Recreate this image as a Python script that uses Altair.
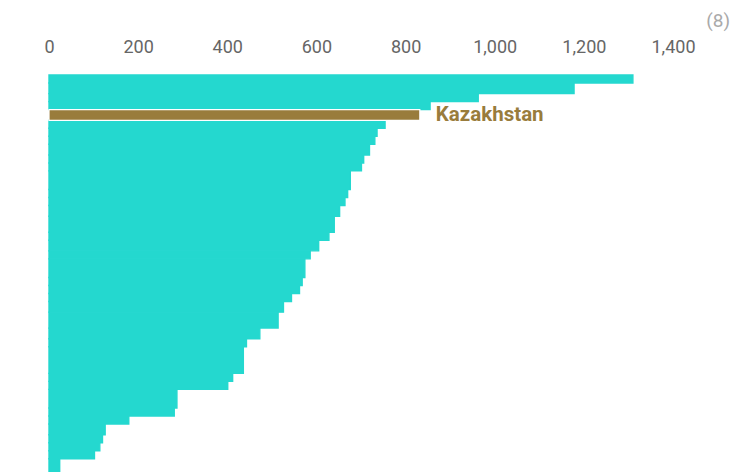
import altair as alt
import pandas as pd

# Entities in ranked order (only the highlighted one is named in the reference)
countries = ["A01", "A02", "A03", "A04", "Kazakhstan", "A06", "A07", "A08", "A09", "A10",
             "A11", "A12", "A13", "A14", "A15", "A16", "A17", "A18", "A19", "A20",
             "A21", "A22", "A23", "A24", "A25", "A26", "A27", "A28", "A29", "A30",
             "A31", "A32", "A33", "A34", "A35", "A36", "A37", "A38"]
values = [1310, 1178, 963, 855, 832, 754, 736, 731, 719, 706,
          701, 676, 670, 664, 652, 640, 628, 605, 586, 574,
          568, 562, 544, 526, 514, 473, 443, 436, 412, 401,
          287, 281, 179, 126, 120, 114, 102, 24]
# bar thickness (relative weight of each entity)
weights = [3, 4, 3, 3, 4, 3, 3, 3, 4, 3,
           3, 7, 3, 3, 4, 6, 3, 4, 3, 7,
           3, 3, 3, 4, 6, 4, 3, 10, 3, 3,
           7, 3, 3, 4, 3, 3, 3, 5]
tick_values = [0, 200, 400, 600, 800, 1000, 1200, 1400]
highlight = "Kazakhstan"

CYAN = "#24D8CF"
GOLD = "#997C3C"

df = pd.DataFrame({
    "country": countries,
    "value": values,
    "weight": weights,
    "rank": list(range(len(countries))),
})

total = sum(weights)

base = alt.Chart(df).transform_window(
    end="sum(weight)", sort=[alt.SortField("rank")], frame=[None, 0]
).transform_calculate(
    start="datum.end - datum.weight",
    mid="datum.end - datum.weight / 2",
    zero="0",
)

xscale = alt.Scale(domain=[0, 1400], nice=False)
yscale = alt.Scale(domain=[0, total], reverse=True, nice=False, zero=False)

bars = base.transform_filter(alt.datum.country != highlight).mark_rect(
    color=CYAN, stroke=CYAN, strokeWidth=1.4,
).encode(
    x=alt.X("value:Q", scale=xscale, axis=alt.Axis(
        orient="top", values=tick_values, format=",d", grid=False, domain=False,
        ticks=False, tickSize=0, labelPadding=19, labelFontSize=18, labelFlush=False,
        labelColor="#666666", labelFont="Roboto", title=None)),
    x2="zero:Q",
    y=alt.Y("start:Q", scale=yscale, axis=None),
    y2="end:Q",
)

hbar = base.transform_filter(alt.datum.country == highlight).mark_rect(
    color=GOLD, stroke="white", strokeWidth=1.2,
).encode(
    x=alt.X("value:Q", scale=xscale),
    x2="zero:Q",
    y=alt.Y("start:Q", scale=yscale),
    y2="end:Q",
)

label = base.transform_filter(alt.datum.country == highlight).mark_text(
    align="left", baseline="middle", dx=16, dy=0, fontSize=20.5, fontWeight="bold",
    font="Roboto", color=GOLD,
).encode(
    x=alt.X("value:Q", scale=xscale),
    y=alt.Y("mid:Q", scale=yscale),
    text="country:N",
)

chart = alt.layer(bars, hbar, label).properties(
    width=624,
    height=397,
    padding={"left": 41, "top": 67, "right": 69, "bottom": 0},
    autosize=alt.AutoSizeParams(type="none"),
    title=alt.TitleParams("(8)", anchor="end", frame="group", fontSize=19,
                          fontWeight="normal", font="Roboto", color="#AAAAAA",
                          dx=57, offset=7),
).configure_view(strokeWidth=0)

chart.save("out.html", embed_options={"renderer": "svg", "actions": False})
